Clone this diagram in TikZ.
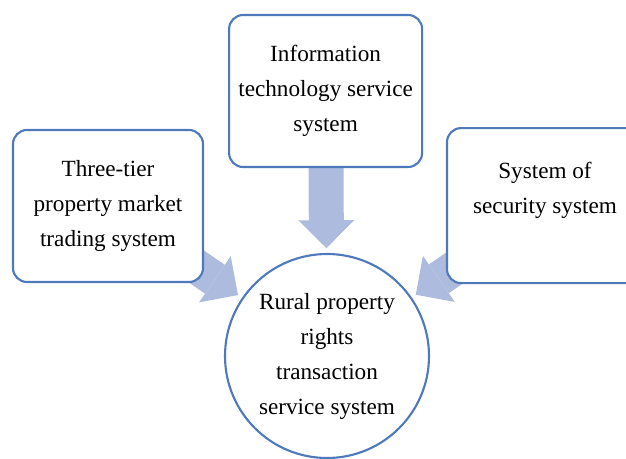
\documentclass[tikz,border=0pt]{standalone}
\usepackage{fontspec}
\setmainfont{Liberation Serif}
\usetikzlibrary{arrows.meta}
\usetikzlibrary{backgrounds}
\definecolor{edgeblue}{RGB}{79,121,189}
\definecolor{flowblue}{RGB}{172,187,222}
\tikzset{
  sysbox/.style={draw=edgeblue, line width=1.5pt, fill=white, rounded corners=0.35cm, align=center, inner sep=0pt},
  hub/.style={circle, draw=edgeblue, line width=1.5pt, fill=white, align=center, inner sep=0pt, minimum size=5.1cm},
  flow/.style={flowblue, line width=0.875cm, -{Triangle[width=1.4cm 0 0, length=0.7cm 0 0, line width=0pt]}, shorten >=0.12cm}
}
\newcommand{\feed}[2]{\draw[flow] (#1.center) -- (#2);}

\begin{document}
\begin{tikzpicture}[font=\fontsize{16.5}{24.9}\selectfont]
        \clip (0,0) rectangle (15.65,11.45);

        % the three feeding systems
        \node[sysbox, minimum width=4.825cm, minimum height=3.8cm] (info) at (8.14,9.175) {Information\\technology service\\system};
        \node[sysbox, minimum width=4.75cm, minimum height=3.8cm] (tier) at (2.7,6.3) {Three-tier\\property market\\trading system};
        \node[sysbox, minimum width=4.9cm, minimum height=3.875cm] (secu) at (13.625,6.31) {System of\\security system\\~};

        % the hub
        \node[hub] (rural) at (8.175,2.55) {Rural property\\rights\\transaction\\service system};

        % block arrows
        \begin{scope}[on background layer]
        \feed{info}{rural}
        \feed{tier}{rural}
        \feed{secu}{rural}
        \end{scope}
\end{tikzpicture}
\end{document}
